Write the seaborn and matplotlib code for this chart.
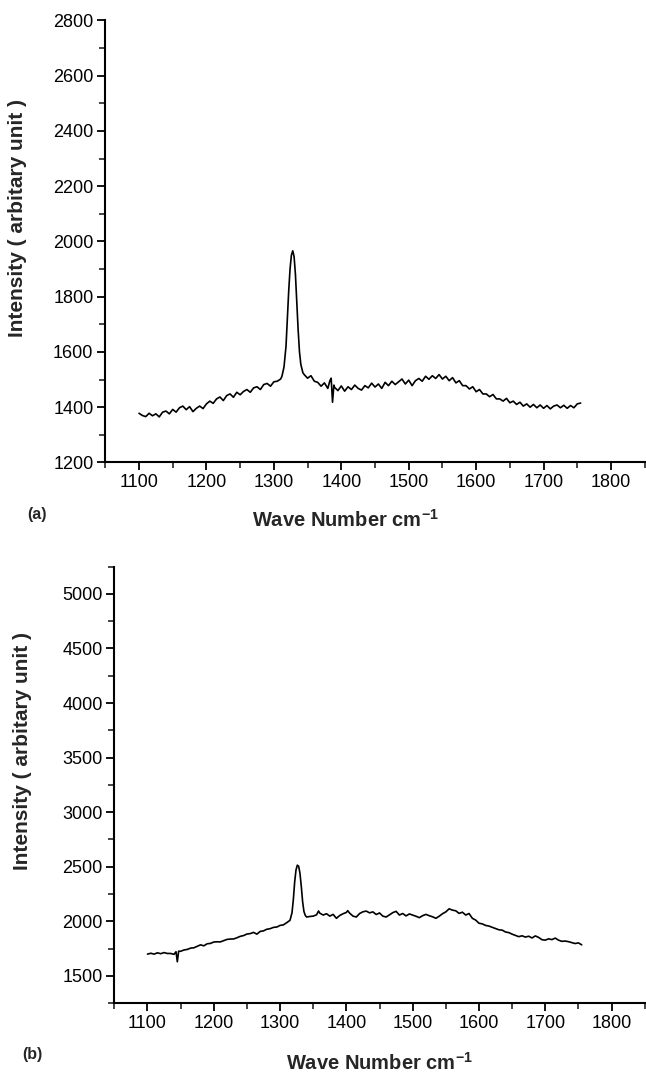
import numpy as np
import pandas as pd
import matplotlib
matplotlib.use("Agg")
import matplotlib.pyplot as plt
import seaborn as sns
from matplotlib.ticker import MultipleLocator

# ---- data ----
wn_a = [1100, 1105, 1110, 1115, 1120, 1125, 1130, 1135, 1140, 1145, 1150, 1155, 1160, 1165, 1170,
        1175, 1180, 1185, 1190, 1195, 1200, 1205, 1210, 1215, 1220, 1225, 1230, 1235, 1240, 1245,
        1250, 1255, 1260, 1265, 1270, 1275, 1280, 1285, 1290, 1295, 1300, 1305, 1310, 1312, 1315,
        1318, 1320, 1322, 1324, 1326, 1328, 1330, 1332, 1334, 1336, 1338, 1340, 1343, 1345, 1350,
        1355, 1360, 1365, 1370, 1375, 1380, 1383, 1385, 1387, 1389, 1390, 1395, 1400, 1405, 1410,
        1415, 1420, 1425, 1430, 1435, 1440, 1445, 1450, 1455, 1460, 1465, 1470, 1475, 1480, 1485,
        1490, 1495, 1500, 1505, 1510, 1515, 1520, 1525, 1530, 1535, 1540, 1545, 1550, 1555, 1560,
        1565, 1570, 1575, 1580, 1585, 1590, 1595, 1600, 1605, 1610, 1615, 1620, 1625, 1630, 1635,
        1640, 1645, 1650, 1655, 1660, 1665, 1670, 1675, 1680, 1685, 1690, 1695, 1700, 1705, 1710,
        1715, 1720, 1725, 1730, 1735, 1740, 1745, 1750, 1755]
int_a = [1378, 1370, 1366, 1378, 1369, 1376, 1365, 1382, 1386, 1376, 1392, 1382, 1398, 1404, 1391,
         1402, 1384, 1396, 1404, 1395, 1412, 1422, 1414, 1430, 1437, 1424, 1442, 1448, 1436, 1454,
         1445, 1457, 1464, 1454, 1470, 1474, 1464, 1482, 1486, 1476, 1492, 1494, 1502, 1512, 1545,
         1620, 1720, 1820, 1900, 1950, 1966, 1945, 1880, 1780, 1680, 1600, 1555, 1525, 1518, 1505,
         1514, 1494, 1490, 1476, 1488, 1468, 1495, 1505, 1418, 1480, 1472, 1460, 1477, 1458, 1474,
         1464, 1480, 1468, 1462, 1478, 1470, 1487, 1473, 1484, 1468, 1490, 1478, 1494, 1482, 1492,
         1502, 1484, 1498, 1478, 1496, 1504, 1494, 1512, 1501, 1514, 1504, 1518, 1502, 1512, 1496,
         1507, 1488, 1496, 1478, 1478, 1466, 1474, 1456, 1464, 1448, 1448, 1438, 1446, 1430, 1430,
         1422, 1432, 1416, 1422, 1410, 1418, 1404, 1412, 1400, 1410, 1398, 1408, 1396, 1406, 1394,
         1404, 1408, 1398, 1407, 1396, 1406, 1398, 1412, 1415]

wn_b = [1100, 1105, 1110, 1115, 1120, 1125, 1130, 1135, 1140, 1143, 1145, 1147, 1150, 1155, 1160,
        1165, 1170, 1175, 1180, 1185, 1190, 1195, 1200, 1205, 1210, 1215, 1220, 1225, 1230, 1235,
        1240, 1245, 1250, 1255, 1260, 1265, 1270, 1275, 1280, 1285, 1290, 1295, 1300, 1305, 1310,
        1315, 1318, 1320, 1322, 1324, 1326, 1328, 1330, 1332, 1334, 1336, 1338, 1340, 1345, 1350,
        1355, 1358, 1360, 1365, 1370, 1375, 1380, 1385, 1390, 1395, 1400, 1402, 1405, 1410, 1415,
        1420, 1425, 1430, 1435, 1440, 1445, 1450, 1455, 1460, 1465, 1470, 1475, 1480, 1485, 1490,
        1495, 1500, 1505, 1510, 1515, 1520, 1525, 1530, 1535, 1540, 1545, 1550, 1555, 1560, 1565,
        1570, 1575, 1580, 1585, 1590, 1595, 1600, 1605, 1610, 1615, 1620, 1625, 1630, 1635, 1640,
        1645, 1650, 1655, 1660, 1665, 1670, 1675, 1680, 1685, 1690, 1695, 1700, 1705, 1710, 1715,
        1720, 1725, 1730, 1735, 1740, 1745, 1750, 1755]
int_b = [1700, 1708, 1700, 1712, 1704, 1714, 1706, 1706, 1698, 1722, 1630, 1727, 1726, 1738, 1743,
         1755, 1758, 1771, 1785, 1776, 1795, 1798, 1811, 1813, 1812, 1823, 1835, 1838, 1839, 1850,
         1863, 1870, 1884, 1888, 1899, 1883, 1908, 1913, 1928, 1933, 1945, 1948, 1963, 1968, 1988,
         2010, 2080, 2200, 2360, 2470, 2515, 2505, 2440, 2320, 2180, 2090, 2055, 2040, 2045, 2048,
         2060, 2095, 2075, 2058, 2070, 2048, 2064, 2028, 2054, 2070, 2082, 2098, 2075, 2048, 2040,
         2072, 2088, 2094, 2078, 2087, 2063, 2077, 2048, 2040, 2060, 2080, 2092, 2058, 2072, 2050,
         2068, 2058, 2047, 2034, 2052, 2064, 2052, 2042, 2028, 2047, 2070, 2087, 2115, 2103, 2097,
         2073, 2084, 2058, 2072, 2028, 2012, 1983, 1977, 1963, 1957, 1946, 1934, 1923, 1920, 1903,
         1897, 1883, 1872, 1860, 1868, 1856, 1864, 1848, 1867, 1853, 1832, 1828, 1840, 1833, 1847,
         1828, 1817, 1820, 1814, 1806, 1797, 1803, 1785]

xticks = [1100, 1200, 1300, 1400, 1500, 1600, 1700, 1800]
yticks_a = [1200, 1400, 1600, 1800, 2000, 2200, 2400, 2600, 2800]
yticks_b = [1500, 2000, 2500, 3000, 3500, 4000, 4500, 5000]
xlabel = "Wave Number cm$^{-1}$"
ylabel = "Intensity ( arbitary unit )"
panel_labels = ["(a)", "(b)"]

# ---- style ----
sns.set_theme(style="ticks")
plt.rcParams["font.family"] = ["Liberation Sans", "DejaVu Sans"]
plt.rcParams["mathtext.fontset"] = "custom"
plt.rcParams["mathtext.rm"] = "Liberation Sans:bold"
plt.rcParams["mathtext.bf"] = "Liberation Sans:bold"
plt.rcParams["mathtext.it"] = "Liberation Sans:bold"

fig = plt.figure(figsize=(6.46, 10.73), dpi=100)
ax_a = fig.add_axes([0.163, 0.569, 0.835, 0.412])
ax_b = fig.add_axes([0.177, 0.065, 0.821, 0.407])

df_a = pd.DataFrame({"wn": wn_a, "I": int_a})
df_b = pd.DataFrame({"wn": wn_b, "I": int_b})

# (axes, data, yticks, ylim, minor step, xlabel pos, ylabel pos)
setups = [
    (ax_a, df_a, yticks_a, (1200, 2800), 100, (0.445, -0.129), (-0.162, 0.553)),
    (ax_b, df_b, yticks_b, (1250, 5250), 250, (0.5, -0.137), (-0.173, 0.578)),
]
for ax, df, yt, ylim, ymin_step, xl_pos, yl_pos in setups:
    sns.lineplot(data=df, x="wn", y="I", ax=ax, color="black", linewidth=1.2,
                 estimator=None, sort=False)
    ax.set_xlim(1050, 1850)
    ax.set_ylim(*ylim)
    ax.set_xticks(xticks)
    ax.set_yticks(yt)
    ax.xaxis.set_minor_locator(MultipleLocator(50))
    ax.yaxis.set_minor_locator(MultipleLocator(ymin_step))
    ax.tick_params(axis="both", which="major", length=6, width=1.3, direction="out",
                   labelsize=13, colors="black", pad=2.5)
    ax.tick_params(axis="both", which="minor", length=4, width=1.2, direction="out")
    for s in ["top", "right"]:
        ax.spines[s].set_visible(False)
    for s in ["left", "bottom"]:
        ax.spines[s].set_linewidth(1.5)
        ax.spines[s].set_color("black")
    ax.set_xlabel(xlabel, fontsize=14.5, fontweight="bold")
    ax.set_ylabel(ylabel, fontsize=15, fontweight="bold")
    ax.xaxis.label.set_va("center")
    ax.xaxis.set_label_coords(*xl_pos)
    ax.yaxis.label.set_va("center")
    ax.yaxis.label.set_rotation_mode("anchor")
    ax.yaxis.set_label_coords(*yl_pos)

fig.text(0.042, 1 - 515 / 1073, panel_labels[0], fontsize=11.5, fontweight="bold",
         va="center", ha="left")
fig.text(0.035, 1 - 1055 / 1073, panel_labels[1], fontsize=11.5, fontweight="bold",
         va="center", ha="left")

fig.savefig("out.png", dpi=100, facecolor="white")
